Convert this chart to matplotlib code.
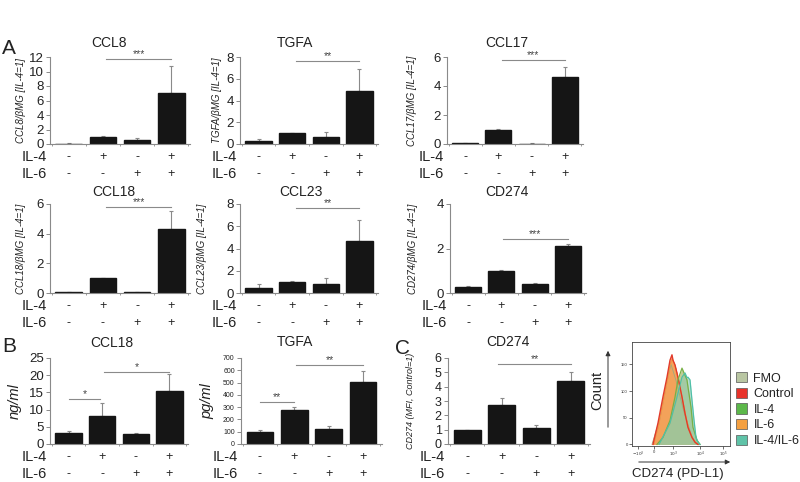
import matplotlib
matplotlib.use("Agg")
import matplotlib.pyplot as plt
import matplotlib.transforms as mtransforms
from matplotlib.patches import Patch
import numpy as np

plt.rcParams['font.family'] = ['Liberation Sans', 'DejaVu Sans']

# ---------------- data ----------------
il4_signs = ['-', '+', '-', '+']
il6_signs = ['-', '-', '+', '+']

ccl8_mean = [0.05, 1.0, 0.5, 7.0]
ccl8_err = [0.05, 0.05, 0.3, 3.8]
tgfa_mean = [0.3, 1.0, 0.65, 4.9]
tgfa_err = [0.15, 0.05, 0.45, 2.0]
ccl17_mean = [0.05, 1.0, 0.03, 4.6]
ccl17_err = [0.04, 0.02, 0.02, 0.7]
ccl18_mean = [0.05, 1.0, 0.05, 4.3]
ccl18_err = [0.02, 0.02, 0.02, 1.2]
ccl23_mean = [0.45, 1.0, 0.8, 4.7]
ccl23_err = [0.35, 0.05, 0.55, 1.9]
cd274_mean = [0.25, 1.0, 0.4, 2.1]
cd274_err = [0.05, 0.02, 0.05, 0.1]
ccl18_prot_mean = [3.3, 8.1, 2.8, 15.5]
ccl18_prot_err = [0.5, 3.9, 0.4, 4.8]
tgfa_prot_mean = [100, 280, 120, 505]
tgfa_prot_err = [15, 25, 30, 90]
cd274_mfi_mean = [1.0, 2.75, 1.15, 4.4]
cd274_mfi_err = [0.0, 0.45, 0.15, 0.65]

# significance brackets: (x_start, x_end, y, label)
ccl8_sig = [(1.1, 3.0, 11.7, '***')]
tgfa_sig = [(1.1, 3.0, 7.6, '**')]
ccl17_sig = [(1.1, 3.0, 5.8, '***')]
ccl18_sig = [(1.1, 3.0, 5.8, '***')]
ccl23_sig = [(1.1, 3.0, 7.6, '**')]
cd274_sig = [(1.05, 3.0, 2.43, '***')]
ccl18_prot_sig = [(0.0, 0.95, 13.1, '*'), (1.05, 3.0, 20.9, '*')]
tgfa_prot_sig = [(0.0, 1.0, 342, '**'), (1.05, 3.0, 643, '**')]
cd274_mfi_sig = [(0.9, 3.0, 5.58, '**')]

# flow cytometry histogram (x in display channel units, y in counts)
hist_tick_pos = [6.1, 22.4, 41.8, 69.4, 92.9]
hist_tick_labels = [r'$-10^3$', '0', r'$10^3$', r'$10^4$', r'$10^5$']
fmo_x = [20.4, 28.6, 35.7, 39.8, 44.9, 53.1, 61.2, 66.3]
fmo_y = [0, 50, 120, 150, 120, 60, 15, 0]
ctrl_x = [21.4, 26.5, 31.6, 35.7, 38.8, 40.8, 41.8, 43.9, 46.9, 51.0, 54.1, 57.1, 61.2, 64.3, 67.3]
ctrl_y = [0, 40, 89, 126, 158, 168, 158, 149, 126, 89, 58, 32, 13, 4, 0]
il6_x = [22, 27, 32, 36, 39, 41, 43, 45, 48, 52, 55, 58, 62, 65, 68]
il6_y = [0, 35, 82, 120, 150, 160, 152, 140, 115, 80, 52, 28, 11, 3, 0]
il4_x = [25.5, 31.6, 38.8, 43.9, 46.9, 51.0, 53.1, 56.1, 57.1, 60.2, 62.2, 66.3, 69.4]
il4_y = [0, 13, 45, 89, 121, 143, 134, 121, 108, 70, 32, 8, 0]
il46_x = [27.6, 38.8, 45.9, 51.0, 54.1, 56.1, 57.1, 59.2, 61.2, 63.3, 65.3, 67.3, 69.4]
il46_y = [0, 40, 89, 126, 134, 125, 126, 121, 83, 45, 13, 4, 0]

# ---------------- figure ----------------
W, H = 800, 482
fig = plt.figure(figsize=(8, 4.82), dpi=100)
TXT = '#222222'
GRAY = '#8a8a8a'


def frect(l, t, r, b):
    return [l / W, 1 - b / H, (r - l) / W, (b - t) / H]


def ftext(px, py, s, **kw):
    kw.setdefault('color', TXT)
    fig.text(px / W, 1 - py / H, s, **kw)


def bar_panel(box, means, errs, yticks, ylabel, ylab_px, title, title_xy, sig,
              tick_fs=9.5, ylab_fs=7, ylab_style='italic', sig_fs=7.5):
    l, t, r, b = box
    ax = fig.add_axes(frect(l, t, r, b))
    x = np.arange(len(means))
    ax.errorbar(x, means, yerr=[np.zeros(len(errs)), errs], fmt='none',
                ecolor=GRAY, elinewidth=0.8, capsize=1.5, capthick=0.8, zorder=1)
    ax.bar(x, means, width=0.78, color='#151515', edgecolor='#151515', zorder=2)
    ax.set_xlim(-0.55, 3.55)
    ax.set_ylim(0, yticks[-1])
    ax.set_yticks(yticks)
    ax.set_xticks([-0.5, 0.5, 1.5, 2.5, 3.5])
    ax.set_xticklabels([])
    ax.tick_params(axis='x', length=1.5, color=GRAY, width=0.6, direction='out')
    ax.tick_params(axis='y', length=3, color=GRAY, width=0.7, labelsize=tick_fs,
                   labelcolor=TXT, pad=1.5)
    for s in ['top', 'right']:
        ax.spines[s].set_visible(False)
    for s in ['left', 'bottom']:
        ax.spines[s].set_color(GRAY)
        ax.spines[s].set_linewidth(0.8)
    ax.set_ylabel(ylabel, fontsize=ylab_fs, style=ylab_style, color=TXT)
    ax.yaxis.set_label_coords((ylab_px - l) / (r - l), 0.5)
    for (x1, x2, y, lab) in sig:
        ax.plot([x1, x2], [y, y], color=GRAY, lw=0.8, clip_on=False, zorder=3)
        ax.text((x1 + x2) / 2, y, lab, ha='center', va='bottom', fontsize=sig_fs,
                color='#444444', clip_on=False)
    trans = mtransforms.blended_transform_factory(ax.transData, fig.transFigure)
    for i in range(4):
        ax.text(i, 1 - (b + 13) / H, il4_signs[i], transform=trans, ha='center',
                va='center', fontsize=9, color=TXT)
        ax.text(i, 1 - (b + 30) / H, il6_signs[i], transform=trans, ha='center',
                va='center', fontsize=9, color=TXT)
    ftext(l - 3, b + 13, 'IL-4', ha='right', va='center', fontsize=10.5)
    ftext(l - 3, b + 30, 'IL-6', ha='right', va='center', fontsize=10.5)
    ftext(title_xy[0], title_xy[1], title, ha='center', va='center', fontsize=10)
    return ax


# Row A1
bar_panel((50, 57, 190, 144), ccl8_mean, ccl8_err, [0, 2, 4, 6, 8, 10, 12],
          'CCL8/βMG [IL-4=1]', 26, 'CCL8', (109, 43), ccl8_sig)
bar_panel((240, 57, 378, 144), tgfa_mean, tgfa_err, [0, 2, 4, 6, 8],
          'TGFA/βMG [IL-4=1]', 222, 'TGFA', (295, 43), tgfa_sig)
bar_panel((447, 57, 583, 144), ccl17_mean, ccl17_err, [0, 2, 4, 6],
          'CCL17/βMG [IL-4=1]', 417, 'CCL17', (507, 43), ccl17_sig)
# Row A2
bar_panel((50, 204, 190, 293), ccl18_mean, ccl18_err, [0, 2, 4, 6],
          'CCL18/βMG [IL-4=1]', 26, 'CCL18', (114, 192), ccl18_sig)
bar_panel((240, 204, 378, 293), ccl23_mean, ccl23_err, [0, 2, 4, 6, 8],
          'CCL23/βMG [IL-4=1]', 207, 'CCL23', (301, 192), ccl23_sig)
bar_panel((450, 204, 586, 293), cd274_mean, cd274_err, [0, 2, 4],
          'CD274/βMG [IL-4=1]', 418, 'CD274', (507, 192), cd274_sig)
# Row B / C
bar_panel((50, 358, 188, 444), ccl18_prot_mean, ccl18_prot_err, [0, 5, 10, 15, 20, 25],
          'ng/ml', 22, 'CCL18', (112, 343), ccl18_prot_sig, ylab_fs=10.5)
bar_panel((241, 358, 382, 444), tgfa_prot_mean, tgfa_prot_err,
          [0, 100, 200, 300, 400, 500, 600, 700],
          'pg/ml', 214, 'TGFA', (295, 342), tgfa_prot_sig, tick_fs=5, ylab_fs=10.5)
bar_panel((448, 358, 590, 444), cd274_mfi_mean, cd274_mfi_err, [0, 1, 2, 3, 4, 5, 6],
          'CD274 (MFI, Control=1)', 415, 'CD274', (508, 342), cd274_mfi_sig,
          tick_fs=9, ylab_fs=6.5)

# panel letters
ftext(9, 48, 'A', ha='center', va='center', fontsize=15)
ftext(9, 346, 'B', ha='center', va='center', fontsize=15)
ftext(403, 348, 'C', ha='center', va='center', fontsize=15)

# ---------------- histogram ----------------
hax = fig.add_axes(frect(632, 342, 730, 446))
hax.fill_between(fmo_x, fmo_y, color='#b9c6a2', alpha=0.9, lw=0)
hax.plot(fmo_x, fmo_y, color='#9aab80', lw=0.6)
hax.fill_between(ctrl_x, ctrl_y, color='#f07850', alpha=0.85, lw=0)
hax.fill_between(il6_x, il6_y, color='#f6a85a', alpha=0.85, lw=0)
hax.plot(il6_x, il6_y, color='#f59a40', lw=0.8)
hax.plot(ctrl_x, ctrl_y, color='#e23a2a', lw=1.0)
hax.fill_between(il4_x, il4_y, color='#b3c07a', alpha=0.8, lw=0)
hax.fill_between(il46_x, il46_y, color='#8fcab0', alpha=0.6, lw=0)
hax.plot(il4_x, il4_y, color='#78b046', lw=0.9)
hax.plot(il46_x, il46_y, color='#4fc0a8', lw=0.9)
hax.set_xlim(0, 100)
hax.set_ylim(-3, 192)
hax.set_xticks(hist_tick_pos)
hax.set_xticklabels(hist_tick_labels)
hax.set_yticks([0, 50, 100, 150])
hax.tick_params(labelsize=3, length=2, width=0.5, pad=1, colors='#333333')
for s in hax.spines.values():
    s.set_linewidth(0.6)
    s.set_color('#444444')

# Count arrow and label
fig.add_artist(matplotlib.patches.FancyArrowPatch(
    (608 / W, 1 - 430 / H), (608 / W, 1 - 348 / H), transform=fig.transFigure,
    arrowstyle='-|>', mutation_scale=7, lw=0.7, color='#333333'))
ftext(597, 390, 'Count', rotation=90, ha='center', va='center', fontsize=10.5)
fig.add_artist(matplotlib.patches.FancyArrowPatch(
    (636 / W, 1 - 462 / H), (733 / W, 1 - 462 / H), transform=fig.transFigure,
    arrowstyle='-|>', mutation_scale=7, lw=0.7, color='#333333'))
ftext(678, 474, 'CD274 (PD-L1)', ha='center', va='center', fontsize=9.5)

# legend
leg_labels = ['FMO', 'Control', 'IL-4', 'IL-6', 'IL-4/IL-6']
leg_colors = ['#b9c6a2', '#e8322a', '#5cb84a', '#f5a040', '#5fc3a8']
handles = [Patch(facecolor=c, edgecolor='#555555', lw=0.5, label=lab)
           for c, lab in zip(leg_colors, leg_labels)]
fig.legend(handles=handles, loc='upper left', bbox_to_anchor=(736 / W, 1 - 372 / H),
           frameon=False, fontsize=9, handlelength=0.9, handleheight=0.9,
           handletextpad=0.5, labelspacing=0.25, borderpad=0, borderaxespad=0,
           labelcolor=TXT)

fig.savefig('out.png', dpi=100)
